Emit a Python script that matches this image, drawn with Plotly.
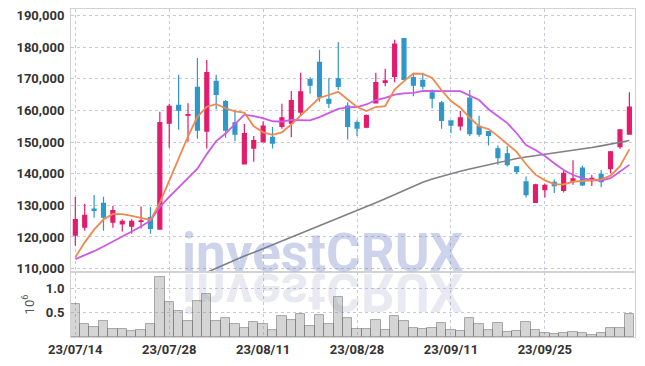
import plotly.graph_objects as go

dates = ["23/07/14","23/07/17","23/07/18","23/07/19","23/07/20","23/07/21","23/07/24","23/07/25","23/07/26","23/07/27",
         "23/07/28","23/07/31","23/08/01","23/08/02","23/08/03","23/08/04","23/08/07","23/08/08","23/08/09","23/08/10",
         "23/08/11","23/08/14","23/08/16","23/08/17","23/08/18","23/08/21","23/08/22","23/08/23","23/08/24","23/08/25",
         "23/08/28","23/08/29","23/08/30","23/08/31","23/09/01","23/09/04","23/09/05","23/09/06","23/09/07","23/09/08",
         "23/09/11","23/09/12","23/09/13","23/09/14","23/09/15","23/09/18","23/09/19","23/09/20","23/09/21","23/09/22",
         "23/09/25","23/09/26","23/09/27","23/10/04","23/10/05","23/10/06","23/10/10","23/10/11","23/10/12","23/10/13"]

opens = [120600,123100,128800,130600,124700,124100,123400,124900,126100,122500,
         156000,161600,158500,167300,153500,169200,162800,156100,143100,148100,
         150100,151500,155000,156000,159500,169800,175200,163500,170000,161400,
         156200,154700,162400,168900,170800,182700,170400,169500,165600,162400,
         156700,155100,163900,155000,153300,147900,146300,142200,137400,130900,
         135000,137300,134700,137500,141800,137800,139800,141600,148600,152500]
highs = [132600,130500,133300,132700,129800,125600,125600,129600,129500,159600,
         162100,171300,162300,176600,176000,171300,163300,160300,155700,151900,
         156600,154800,162100,166200,171900,170500,179200,170300,181700,162600,
         156900,158700,171900,173200,182400,182900,171600,171900,166600,163000,
         156700,159800,166500,158300,153300,148900,148700,142300,139100,136800,
         136800,138200,141200,144300,142500,139600,141200,147200,154100,165800]
lows = [117200,122000,126100,122000,122900,121700,121000,122700,121000,122500,
        148200,153900,150100,151100,148000,160300,151400,150300,143100,143800,
        150100,148000,154200,151500,158400,165300,162800,160700,166500,150800,
        151900,154400,162200,167700,168900,169800,164500,166600,160700,154200,
        152800,153700,151900,151700,148900,142800,142300,139900,132500,130900,
        132500,133900,134100,136500,136100,136100,135700,140100,147900,152500]
closes = [125500,126800,128400,126300,128300,124900,124900,125100,122700,156200,
          161300,160100,158700,153800,172000,165100,153800,152500,152700,150500,
          155100,149700,157700,163100,165900,168000,164300,162300,167600,155000,
          154400,158400,168800,169400,181000,169800,168000,167700,163900,156900,
          155400,157700,152700,152500,152100,145100,142900,140700,133400,136500,
          136300,136200,140100,138400,136500,138500,137500,146900,153900,161100]

ma5 = [113600,118300,122300,125500,127300,127200,126700,126000,125400,130800,
       138000,145100,151800,158000,161200,162000,160700,159700,159300,155000,
       153100,152300,153100,155600,158400,161100,164000,164900,165900,163500,
       161100,159800,161100,161400,166600,169300,171700,171600,170300,166400,
       163000,160900,157700,155000,154100,151900,149400,146900,143000,139700,
       137900,136700,136600,137500,137700,138000,138200,139400,142400,147700]
ma10 = [113000,114200,115500,117000,118600,120100,121600,123300,125200,129500,
        132700,135600,138600,141600,146200,150300,152700,155700,158700,158200,
        157600,156600,156500,157000,156900,156900,157900,159100,160500,161000,
        161100,161900,163300,164000,165000,165400,165600,166200,166100,166100,
        166100,166100,164700,163300,160400,158100,156000,152800,149100,147500,
        145600,143300,141200,139600,138600,138000,137800,138600,140700,142800]
ma_long = [None]*13 + [107500,108800,110100,111500,112800,114000,115100,
           116300,117500,118700,120000,121200,122400,123600,124800,125900,127000,
           128200,129500,130800,132100,133400,134800,136100,137300,138300,139200,
           140100,140800,141500,142200,142800,143500,144200,144800,145300,145700,
           146100,146500,146900,147400,147800,148300,148800,149300,149900,150500]

volumes = [0.678,0.274,0.205,0.329,0.164,0.164,0.130,0.144,0.274,1.219,
           0.719,0.534,0.329,0.740,0.884,0.329,0.390,0.267,0.185,0.308,
           0.274,0.144,0.432,0.349,0.479,0.226,0.452,0.267,0.822,0.390,
           0.164,0.164,0.349,0.144,0.432,0.329,0.185,0.164,0.185,0.288,
           0.144,0.123,0.390,0.267,0.144,0.288,0.110,0.123,0.308,0.144,
           0.082,0.062,0.082,0.103,0.082,0.041,0.082,0.185,0.185,0.473]

tick_dates = ["23/07/14","23/07/28","23/08/11","23/08/28","23/09/11","23/09/25"]
price_ticks = [110000,120000,130000,140000,150000,160000,170000,180000,190000]
vol_ticks = [0.5, 1.0]

RED = "#e31b6d"
BLUE = "#3097c9"
GRID = "#c6c9da"
FRAME = "#d2d2d2"
TICKFONT = dict(family="Roboto, sans-serif", size=13, color="#333333", weight="bold")

fig = go.Figure()
fig.add_trace(go.Candlestick(
    x=dates, open=opens, high=highs, low=lows, close=closes,
    increasing=dict(line=dict(color=RED, width=1.2), fillcolor=RED),
    decreasing=dict(line=dict(color=BLUE, width=1.2), fillcolor=BLUE),
    xaxis="x", yaxis="y", showlegend=False))
fig.add_trace(go.Scatter(x=dates, y=ma_long, mode="lines", xaxis="x", yaxis="y",
                         line=dict(color="#808080", width=1.6), showlegend=False))
fig.add_trace(go.Scatter(x=dates, y=ma10, mode="lines", xaxis="x", yaxis="y",
                         line=dict(color="#cc5ae8", width=1.8), showlegend=False))
fig.add_trace(go.Scatter(x=dates, y=ma5, mode="lines", xaxis="x", yaxis="y",
                         line=dict(color="#ef8a4f", width=1.8), showlegend=False))
fig.add_trace(go.Bar(x=dates, y=volumes, xaxis="x2", yaxis="y2", showlegend=False,
                     marker=dict(color="rgba(140,140,140,0.37)",
                                 line=dict(color="rgba(110,110,110,0.55)", width=1))))

vol_top = 0.198

fig.update_layout(
    width=645, height=366,
    margin=dict(l=71, r=10, t=9, b=29, autoexpand=False),
    paper_bgcolor="white", plot_bgcolor="white",
    boxgap=0.4, bargap=0,
    showlegend=False,
    xaxis=dict(domain=[0, 1], anchor="y", type="category", range=[-0.46, 59.6],
               autorange=False, automargin=False,
               rangeslider=dict(visible=False), showticklabels=False,
               tickvals=tick_dates, ticks="",
               showgrid=True, gridcolor=GRID, griddash="dot", gridwidth=1,
               showline=True, mirror=True, linecolor=FRAME, linewidth=1),
    xaxis2=dict(domain=[0, 1], anchor="y2", type="category", matches="x",
                automargin=False,
                tickvals=tick_dates, ticktext=tick_dates, ticks="",
                tickfont=TICKFONT,
                showgrid=True, gridcolor=GRID, griddash="dot", gridwidth=1,
                showline=True, mirror=True, linecolor=FRAME, linewidth=1),
    yaxis=dict(domain=[vol_top, 1], anchor="x", range=[108900, 192100],
               automargin=False,
               tickvals=price_ticks, tickformat=",d", ticks="",
               tickfont=TICKFONT, ticklabelstandoff=3,
               showgrid=True, gridcolor=GRID, griddash="dot", gridwidth=1,
               zeroline=False,
               showline=True, mirror=True, linecolor=FRAME, linewidth=1),
    yaxis2=dict(domain=[0, vol_top], anchor="x2", range=[0, 1.327],
                automargin=False,
                tickmode="array", tickvals=vol_ticks, ticktext=["0.5", "1.0"], ticks="",
                tickfont=TICKFONT, ticklabelstandoff=3, ticklabeloverflow="allow",
                title=dict(text="10<sup>6</sup>", standoff=8,
                           font=dict(family="Roboto, sans-serif", size=13, color="#555555")),
                showgrid=True, gridcolor=GRID, griddash="dot", gridwidth=1,
                zeroline=False,
                showline=True, mirror=True, linecolor=FRAME, linewidth=1),
    annotations=[
        dict(text="investCRUX", xref="paper", yref="paper", x=0.447, y=0.2387,
             xanchor="center", yanchor="top", showarrow=False,
             font=dict(family="Roboto, sans-serif", size=53, weight="bold",
                       color="rgba(120,120,170,0.17)")),
        dict(text="investCRUX", xref="paper", yref="paper", x=0.447, y=0.1564,
             xanchor="center", yanchor="bottom", showarrow=False,
             font=dict(family="Roboto, sans-serif", size=53, weight="bold",
                       color="rgba(100,120,190,0.33)")),
    ],
)

js = """
document.body.style.margin = '0';
document.body.style.padding = '0';
var gd = document.getElementById('{plot_id}');
function flipWM(){
  var anns = gd.querySelectorAll('g.annotation');
  if (!anns.length) return;
  var t = anns[0].querySelector('text');
  if (!t) return;
  t.style.transformBox = 'fill-box';
  t.style.transformOrigin = '50% 50%';
  t.style.transform = 'scaleY(-1)';
}
flipWM();
if (gd.on) gd.on('plotly_afterplot', flipWM);
"""

fig.write_html("out.html", post_script=js, config={"displayModeBar": False})
